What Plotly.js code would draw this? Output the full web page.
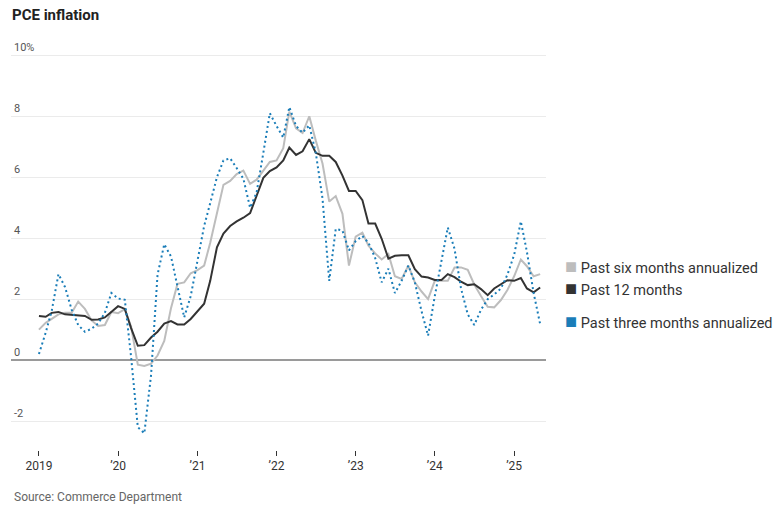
<!DOCTYPE html>
<html>
<head>
<meta charset="utf-8">
<script src="https://cdn.plot.ly/plotly-3.0.1.min.js"></script>
<style>
  html, body { margin: 0; padding: 0; background: #fff; }
  #chart { width: 782px; height: 509px; }
</style>
</head>
<body>
<div id="chart"></div>
<script>
// ---- Data (monthly) ----
const months = [
  "2019-01-01","2019-02-01","2019-03-01","2019-04-01","2019-05-01","2019-06-01","2019-07-01","2019-08-01","2019-09-01","2019-10-01","2019-11-01","2019-12-01",
  "2020-01-01","2020-02-01","2020-03-01","2020-04-01","2020-05-01","2020-06-01","2020-07-01","2020-08-01","2020-09-01","2020-10-01","2020-11-01","2020-12-01",
  "2021-01-01","2021-02-01","2021-03-01","2021-04-01","2021-05-01","2021-06-01","2021-07-01","2021-08-01","2021-09-01","2021-10-01","2021-11-01","2021-12-01",
  "2022-01-01","2022-02-01","2022-03-01","2022-04-01","2022-05-01","2022-06-01","2022-07-01","2022-08-01","2022-09-01","2022-10-01","2022-11-01","2022-12-01",
  "2023-01-01","2023-02-01","2023-03-01","2023-04-01","2023-05-01","2023-06-01","2023-07-01","2023-08-01","2023-09-01","2023-10-01","2023-11-01","2023-12-01",
  "2024-01-01","2024-02-01","2024-03-01","2024-04-01","2024-05-01","2024-06-01","2024-07-01","2024-08-01","2024-09-01","2024-10-01","2024-11-01","2024-12-01",
  "2025-01-01","2025-02-01","2025-03-01","2025-04-01","2025-05-01"
];

const sixMonth = [
  1.00, 1.22, 1.35, 1.50, 1.55, 1.55, 1.92, 1.68, 1.30, 1.12, 1.15, 1.58,
  1.54, 1.67, 1.10, -0.15, -0.19, -0.12, 0.15, 0.63, 1.70, 2.50, 2.55, 2.85,
  2.95, 3.10, 3.85, 4.80, 5.75, 5.88, 6.10, 6.22, 5.78, 5.92, 6.20, 6.50,
  6.55, 6.95, 8.15, 7.60, 7.45, 8.00, 7.20, 6.45, 5.20, 5.38, 4.80, 3.10,
  4.05, 4.18, 3.75, 3.50, 3.30, 3.48, 2.75, 2.66, 3.10, 2.55, 2.25, 2.00,
  2.60, 2.60, 2.60, 3.04, 3.04, 2.96, 2.48, 2.10, 1.75, 1.73, 1.97, 2.30,
  2.75, 3.30, 3.08, 2.75, 2.82
];

const twelveMonth = [
  1.45, 1.42, 1.55, 1.58, 1.50, 1.48, 1.48, 1.45, 1.32, 1.33, 1.40, 1.58,
  1.77, 1.68, 1.05, 0.47, 0.49, 0.74, 0.93, 1.20, 1.28, 1.17, 1.17, 1.35,
  1.60, 1.85, 2.60, 3.70, 4.15, 4.40, 4.55, 4.67, 4.82, 5.42, 5.98, 6.20,
  6.32, 6.55, 6.97, 6.73, 6.85, 7.25, 6.80, 6.70, 6.70, 6.50, 6.05, 5.55,
  5.55, 5.25, 4.48, 4.48, 3.98, 3.33, 3.42, 3.44, 3.44, 2.98, 2.74, 2.71,
  2.63, 2.63, 2.82, 2.72, 2.57, 2.46, 2.49, 2.33, 2.13, 2.35, 2.49, 2.62,
  2.60, 2.69, 2.35, 2.22, 2.38
];

const threeMonth = [
  0.20, 0.90, 1.62, 2.82, 2.40, 1.65, 1.15, 0.93, 1.03, 1.20, 1.55, 2.20,
  2.02, 1.98, 0.10, -2.20, -2.40, -0.50, 2.80, 3.80, 3.40, 2.40, 1.40, 2.10,
  3.30, 4.40, 5.15, 6.00, 6.55, 6.62, 6.30, 5.95, 5.00, 5.50, 6.80, 8.10,
  7.68, 7.30, 8.30, 7.68, 7.46, 7.70, 6.80, 5.30, 2.60, 4.30, 4.25, 3.60,
  3.90, 4.07, 3.85, 3.35, 2.55, 3.00, 2.20, 2.60, 3.10, 2.55, 1.60, 0.80,
  2.10, 3.30, 4.35, 3.65, 2.35, 1.50, 1.15, 1.65, 2.00, 2.15, 2.35, 2.80,
  3.45, 4.55, 3.55, 2.20, 1.18
];

const seriesNames = ["Past six months annualized", "Past 12 months", "Past three months annualized"];
const seriesColors = ["#bdbdbd", "#333333", "#1a7db8"];
const labelShift = [8, 0, 3];

const yTickVals = [-2, 0, 2, 4, 6, 8, 10];
const yTickText = ["-2", "0", "2", "4", "6", "8", "10%"];
const xTickVals = ["2019-01-01","2020-01-01","2021-01-01","2022-01-01","2023-01-01","2024-01-01","2025-01-01"];
const xTickText = ["2019", "\u201920", "\u201921", "\u201922", "\u201923", "\u201924", "\u201925"];

const FONT = "Roboto, 'Noto Sans', sans-serif";

const allSeries = [sixMonth, twelveMonth, threeMonth];

const traces = [
  { x: months, y: sixMonth, type: "scatter", mode: "lines", name: seriesNames[0],
    line: { color: seriesColors[0], width: 2 }, hoverinfo: "skip" },
  { x: months, y: twelveMonth, type: "scatter", mode: "lines", name: seriesNames[1],
    line: { color: seriesColors[1], width: 2 }, hoverinfo: "skip" },
  { x: months, y: threeMonth, type: "scatter", mode: "lines", name: seriesNames[2],
    line: { color: seriesColors[2], width: 2, dash: "2px,3px" }, hoverinfo: "skip" }
];

const annotations = allSeries.map((s, i) => ({
  xref: "paper", yref: "y",
  x: 1.031, y: s[s.length - 1], yshift: labelShift[i],
  xanchor: "left", yanchor: "middle", showarrow: false,
  text: '<span style="color:' + seriesColors[i] + ';font-size:20px">\u25A0</span> ' + seriesNames[i],
  font: { family: FONT, size: 14.5, color: "#333" }
}));

annotations.push({
  xref: "paper", yref: "paper", x: 0.002, y: -0.114,
  xanchor: "left", yanchor: "middle", showarrow: false,
  text: "Source: Commerce Department",
  font: { family: FONT, size: 12, color: "#666" }
});

const layout = {
  width: 782, height: 509,
  margin: { l: 11, r: 236, t: 37, b: 59 },
  paper_bgcolor: "#fff", plot_bgcolor: "#fff",
  showlegend: false,
  font: { family: FONT },
  title: {
    text: "<b>PCE inflation</b>",
    xref: "container", yref: "container",
    x: 12 / 782, xanchor: "left",
    y: 1 - 15 / 509, yanchor: "middle",
    font: { family: FONT, size: 15, color: "#222" }
  },
  xaxis: {
    type: "date",
    range: ["2018-08-25", "2025-05-28"],
    tickmode: "array", tickvals: xTickVals, ticktext: xTickText,
    ticks: "outside", ticklen: 5, tickwidth: 1, tickcolor: "#333",
    showgrid: false, zeroline: false, showline: false,
    tickfont: { family: FONT, size: 12, color: "#333" },
    fixedrange: true
  },
  yaxis: {
    range: [-2.95, 10.6],
    tickmode: "array", tickvals: yTickVals, ticktext: yTickText,
    ticklabelposition: "inside top",
    ticks: "", showline: false,
    showgrid: true, gridcolor: "#ebebeb", gridwidth: 1,
    zeroline: true, zerolinecolor: "#9a9a9a", zerolinewidth: 2,
    tickfont: { family: FONT, size: 11, color: "#555" },
    fixedrange: true
  },
  annotations: annotations
};

Plotly.newPlot("chart", traces, layout, { displayModeBar: false, staticPlot: true });
</script>
</body>
</html>
